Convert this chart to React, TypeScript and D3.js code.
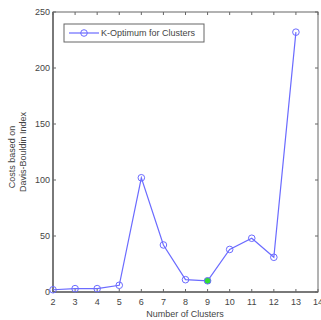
import React from "react";
import * as d3 from "d3";

const clusters = [2, 3, 4, 5, 6, 7, 8, 9, 10, 11, 12, 13];
const costs = [2, 3, 3, 6, 102, 42, 11, 10, 38, 48, 31, 232];
const xTicks = [2, 3, 4, 5, 6, 7, 8, 9, 10, 11, 12, 13, 14];
const yTicks = [0, 50, 100, 150, 200, 250];
const bestK = 9;
const legendLabel = "K-Optimum for Clusters";

export default function App() {
  const W = 321, H = 320;
  const L = 53, R = 318, T = 12, B = 292;
  const x = d3.scaleLinear().domain([2, 14]).range([L, R]);
  const y = d3.scaleLinear().domain([0, 250]).range([B, T]);
  const line = d3.line<number>().x((_, i) => x(clusters[i])).y((d) => y(d));
  const axisColor = "#666";
  const blue = "#6b6bff";
  const font = "Liberation Sans, Arial, sans-serif";
  const fs = 9;
  return (
    <svg width={W} height={H} style={{ position: "absolute", left: 0, top: 0 }}>
      <rect x={0} y={0} width={W} height={H} fill="#fff" />
      <rect x={L} y={T} width={R - L} height={B - T} fill="none" stroke={axisColor} strokeWidth={1} />
      <line x1={L} y1={T} x2={L} y2={B} stroke={axisColor} strokeWidth={1.5} />
      <line x1={L} y1={B} x2={R} y2={B} stroke={axisColor} strokeWidth={1.5} />
      {xTicks.map((t) => (
        <g key={"x" + t}>
          <line x1={x(t)} x2={x(t)} y1={B} y2={B - 3} stroke={axisColor} />
          <line x1={x(t)} x2={x(t)} y1={T} y2={T + 3} stroke={axisColor} />
          <text x={x(t)} y={305} fontSize={fs} fontFamily={font} textAnchor="middle" fill="#444">{t}</text>
        </g>
      ))}
      {yTicks.map((t) => (
        <g key={"y" + t}>
          <line x1={L} x2={L + 3} y1={y(t)} y2={y(t)} stroke={axisColor} />
          <line x1={R} x2={R - 3} y1={y(t)} y2={y(t)} stroke={axisColor} />
          <text x={50} y={y(t) + 3} fontSize={fs} fontFamily={font} textAnchor="end" fill="#444">{t}</text>
        </g>
      ))}
      <text x={185} y={317} fontSize={fs} fontFamily={font} textAnchor="middle" fill="#444">Number of Clusters</text>
      <text transform="translate(15,157) rotate(-90)" fontSize={fs} fontFamily={font} textAnchor="middle" fill="#444">Costs based on</text>
      <text transform="translate(26,152) rotate(-90)" fontSize={fs} fontFamily={font} textAnchor="middle" fill="#444">Davis-Bouldin Index</text>
      <path d={line(costs) || ""} fill="none" stroke={blue} strokeWidth={1.2} />
      {costs.map((c, i) => (
        <circle key={i} cx={x(clusters[i])} cy={y(c)} r={3.3}
          fill={clusters[i] === bestK ? "#33dd33" : "none"} stroke={blue} strokeWidth={1} />
      ))}
      <rect x={64} y={24} width={140} height={18} fill="#fff" stroke={axisColor} strokeWidth={1} />
      <line x1={69} x2={99} y1={33} y2={33} stroke={blue} strokeWidth={1.2} />
      <circle cx={84} cy={33} r={3.3} fill="none" stroke={blue} strokeWidth={1} />
      <text x={101} y={36} fontSize={fs} fontFamily={font} fill="#444">{legendLabel}</text>
    </svg>
  );
}
